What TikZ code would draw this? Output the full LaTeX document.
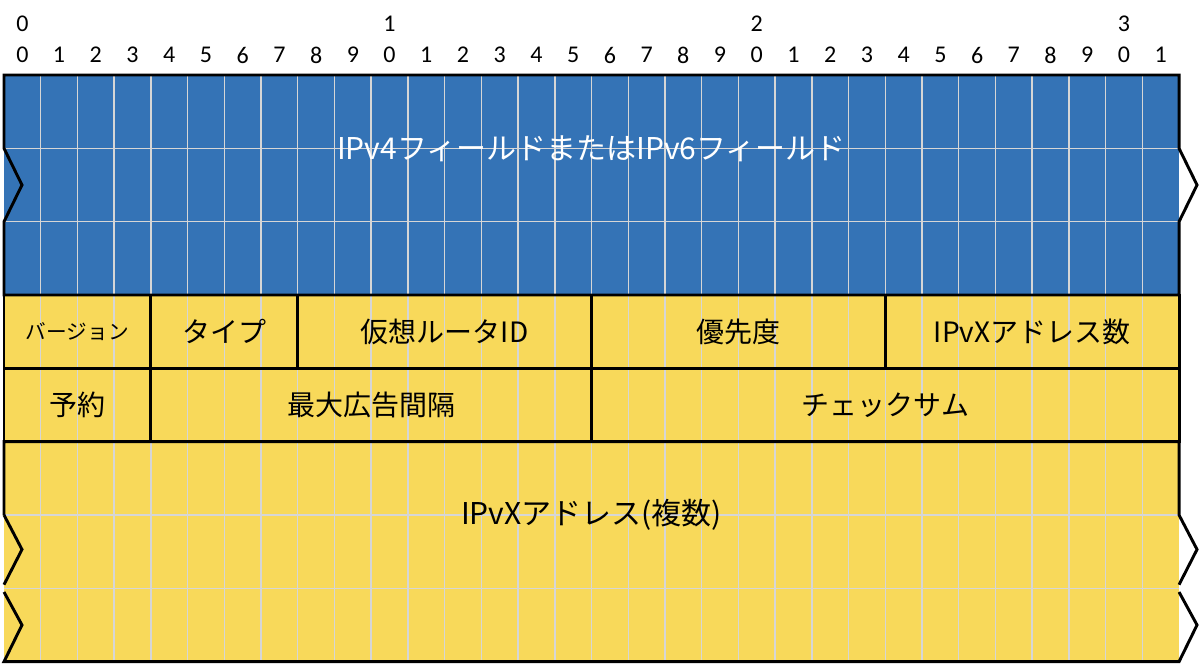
\documentclass[tikz,border=0pt]{standalone}
\usepackage{fontspec}
\setmainfont{Noto Sans CJK JP}
\newfontfamily\digitfont{Carlito}
\definecolor{ipblue}{HTML}{3473B6}
\definecolor{ipyellow}{HTML}{F8D95A}
\definecolor{gridgray}{HTML}{D6D6D6}
\tikzset{
  gridline/.style={draw=gridgray, line width=1.1pt},
  border/.style={draw=black, line width=2.2pt, line join=miter},
  field/.style={border, minimum height=55pt, inner sep=0pt, outer sep=0pt,
    font=\fontsize{21pt}{25pt}\selectfont},
  bits/.style={minimum width=#1*27.54pt},
  bitnum/.style={font=\digitfont\fontsize{18pt}{21pt}\selectfont, inner sep=0pt},
  bigtext/.style={font=\fontsize{22.5pt}{27pt}\selectfont, inner sep=0pt},
}
\begin{document}
\begin{tikzpicture}[x=27.54pt,y=-55pt]
\useasboundingbox (-3pt,56.25pt) rectangle (897pt,-442.5pt);
% fills
\fill[ipblue] (0,0) rectangle (32,3);
\fill[ipyellow] (0,3) rectangle (32,8);
% grid
\foreach \i in {1,...,31} \draw[gridline] (\i,0) -- (\i,8);
\foreach \j in {1,2,6,7} \draw[gridline] (0,\j) -- (32,\j);
% blue region outline
\draw[border] (0,1) -- (0,0) -- (32,0) -- (32,1) -- (32.49,1.5) -- (32,2)
  -- (32,3) -- (0,3) -- (0,2) -- (0.49,1.5) -- cycle;
% row fields
\node[field,bits=4] (ver) at (2,3.5) {\fontsize{15.5pt}{18pt}\selectfont バージョン};
\node[field,bits=4] (type) at (6,3.5) {タイプ};
\node[field,bits=8] (vrid) at (12,3.5) {仮想ルータID};
\node[field,bits=8] (prio) at (20,3.5) {優先度};
\node[field,bits=8] (count) at (28,3.5) {IPvXアドレス数};
\node[field,bits=4] (rsvd) at (2,4.5) {予約};
\node[field,bits=12] (maxadv) at (10,4.5) {最大広告間隔};
\node[field,bits=16] (csum) at (24,4.5) {チェックサム};
% address region outline
\draw[border] (0,6) -- (0,5) -- (32,5) -- (32,6) -- (32.49,6.47) -- (32,6.95);
\draw[border] (32,7.05) -- (32.49,7.5) -- (32,8) -- (0,8) -- (0.49,7.5) -- (0,7.05);
\draw[border] (0,6.95) -- (0.49,6.47) -- (0,6);
% big labels
\node[bigtext, text=white] (ipfield) at (16,1) {IPv4フィールドまたはIPv6フィールド};
\node[bigtext] (addrs) at (16,6) {IPvXアドレス(複数)};
% bit numbers
\foreach \i in {0,...,31} {
  \pgfmathtruncatemacro\u{mod(\i,10)}
  \node[bitnum] (b\i) at (\i+0.5,-0.273) {\u};
}
\foreach \i/\t in {0/0,10/1,20/2,30/3}
  \node[bitnum] (t\i) at (\i+0.5,-0.695) {\t};
\end{tikzpicture}
\end{document}
